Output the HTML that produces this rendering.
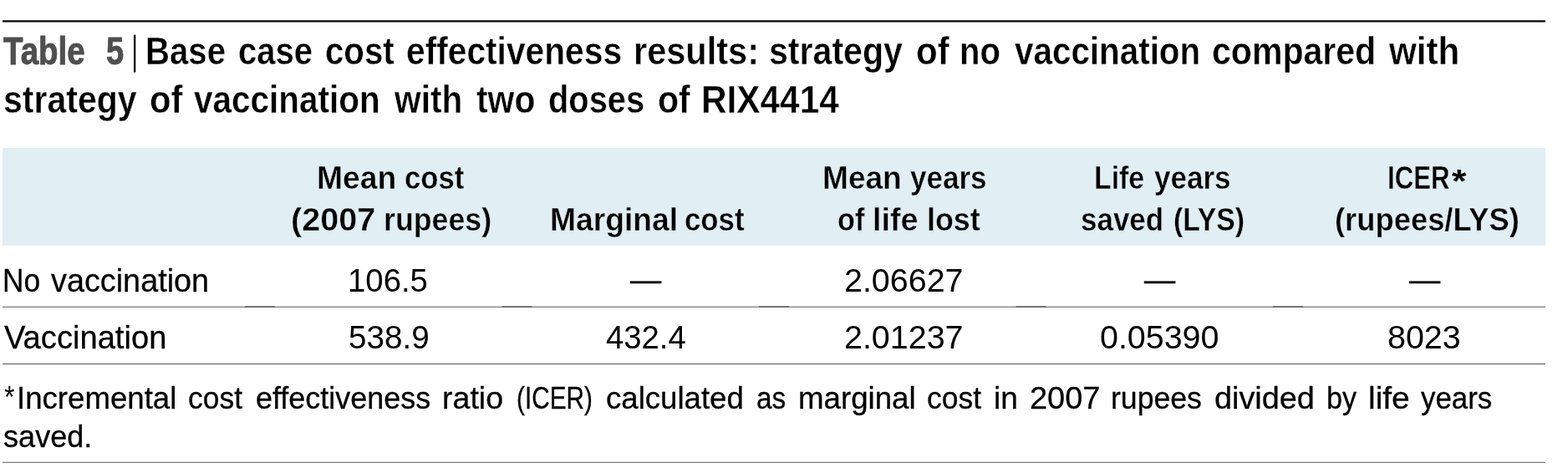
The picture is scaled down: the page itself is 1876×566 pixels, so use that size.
<!DOCTYPE html>
<html lang="en">
<head>
<meta charset="utf-8">
<title>Table 5</title>
<style>
html,body{margin:0;padding:0;background:#fff;}
body{width:1876px;height:566px;position:relative;overflow:hidden;font-family:"Liberation Sans", sans-serif;}
svg.bg{position:absolute;left:0;top:0;}
div span{position:absolute;white-space:pre;line-height:1;transform-origin:0 0;display:block;}
.tg span{font-size:46px;font-weight:700;color:#4f4f4f;-webkit-text-stroke:0.9px #4f4f4f;}
.tt span{font-size:46px;font-weight:700;color:#000000;-webkit-text-stroke:0.4px #ffffff;}
.hd span{font-size:39px;font-weight:700;color:#000000;-webkit-text-stroke:0.4px #e1eef4;}
.bd span{font-size:39px;font-weight:400;color:#000000;-webkit-text-stroke:0.3px #000000;}
.nm span{font-size:39px;font-weight:400;color:#000000;}
.ds span{font-size:39px;font-weight:400;color:#000000;-webkit-text-stroke:0.4px #000000;}
.fn span{font-size:37px;font-weight:400;color:#000000;-webkit-text-stroke:0.3px #000000;}
</style>
</head>
<body>
<svg class="bg" width="1876" height="566" viewBox="0 0 1876 566">
<rect x="3" y="177" width="1846" height="116.7" fill="#e1eef4"/>
<rect x="3" y="24.3" width="1846" height="2.2" fill="#000"/>
<rect x="160" y="41.6" width="2.3" height="44.9" fill="#000"/>
<rect x="3" y="366.85" width="1846" height="0.65" fill="#000"/>
<g fill="#4a4a4a"><rect x="293" y="366.4" width="36" height="1.1"/><rect x="600.5" y="366.4" width="36" height="1.1"/><rect x="908" y="366.4" width="36" height="1.1"/><rect x="1215.5" y="366.4" width="36" height="1.1"/><rect x="1523" y="366.4" width="36" height="1.1"/></g>
<rect x="3" y="435" width="1846" height="1" fill="#555"/>
<rect x="3" y="552.85" width="1846" height="0.65" fill="#000"/>
</svg>
<div class="tg"><span style="left:3.88px;top:38.00px;transform:scaleX(0.8373)">Table</span> <span style="left:127.14px;top:38.00px;transform:scaleX(0.8273)">5</span></div>
<div class="tt"><span style="left:174.21px;top:38.00px;transform:scaleX(0.8728)">Base</span> <span style="left:284.95px;top:38.00px;transform:scaleX(0.8710)">case</span> <span style="left:388.55px;top:38.00px;transform:scaleX(0.8733)">cost</span> <span style="left:485.54px;top:38.00px;transform:scaleX(0.8852)">effectiveness</span> <span style="left:758.11px;top:38.00px;transform:scaleX(0.9025)">results:</span> <span style="left:919.93px;top:38.00px;transform:scaleX(0.8933)">strategy</span> <span style="left:1095.90px;top:38.00px;transform:scaleX(0.9134)">of</span> <span style="left:1148.21px;top:38.00px;transform:scaleX(0.8704)">no</span> <span style="left:1213.82px;top:38.00px;transform:scaleX(0.8779)">vaccination</span> <span style="left:1449.93px;top:38.00px;transform:scaleX(0.8921)">compared</span> <span style="left:1661.73px;top:38.00px;transform:scaleX(0.9173)">with</span></div>
<div class="tt"><span style="left:3.93px;top:95.50px;transform:scaleX(0.8919)">strategy</span> <span style="left:178.91px;top:95.50px;transform:scaleX(0.9075)">of</span> <span style="left:231.82px;top:95.50px;transform:scaleX(0.8799)">vaccination</span> <span style="left:471.71px;top:95.50px;transform:scaleX(0.8842)">with</span> <span style="left:569.82px;top:95.50px;transform:scaleX(0.8880)">two</span> <span style="left:655.96px;top:95.50px;transform:scaleX(0.8656)">doses</span> <span style="left:787.43px;top:95.50px;transform:scaleX(0.8900)">of</span> <span style="left:839.06px;top:95.50px;transform:scaleX(0.9203)">RIX4414</span></div>
<div class="hd"><span style="left:379.15px;top:193.00px;transform:scaleX(0.9558)">Mean</span> <span style="left:483.93px;top:193.00px;transform:scaleX(0.8883)">cost</span></div>
<div class="hd"><span style="left:984.16px;top:193.00px;transform:scaleX(0.9506)">Mean</span> <span style="left:1089.32px;top:193.00px;transform:scaleX(0.8974)">years</span></div>
<div class="hd"><span style="left:1309.34px;top:193.00px;transform:scaleX(0.8680)">Life</span> <span style="left:1380.57px;top:193.00px;transform:scaleX(0.8974)">years</span></div>
<div class="hd"><span style="left:1660.24px;top:193.00px;transform:scaleX(0.8001)">ICER</span><span style="font-size:39.47px;-webkit-text-stroke:0;left:1736.50px;top:197.43px;transform:scaleX(1.1368)">*</span></div>
<div class="hd"><span style="left:348.28px;top:242.50px;transform:scaleX(1.0139)">(2007</span> <span style="left:458.98px;top:242.50px;transform:scaleX(0.9164)">rupees)</span></div>
<div class="hd"><span style="left:658.40px;top:242.50px;transform:scaleX(0.9544)">Marginal</span> <span style="left:819.43px;top:242.50px;transform:scaleX(0.8915)">cost</span></div>
<div class="hd"><span style="left:1001.95px;top:242.50px;transform:scaleX(0.8786)">of</span> <span style="left:1043.87px;top:242.50px;transform:scaleX(0.9670)">life</span> <span style="left:1108.98px;top:242.50px;transform:scaleX(0.9186)">lost</span></div>
<div class="hd"><span style="left:1292.67px;top:242.50px;transform:scaleX(0.8965)">saved</span> <span style="left:1403.96px;top:242.50px;transform:scaleX(0.8659)">(LYS)</span></div>
<div class="hd"><span style="left:1597.13px;top:242.50px;transform:scaleX(0.9325)">(rupees/LYS)</span></div>
<div class="bd"><span style="left:2.92px;top:316.00px;transform:scaleX(0.9039)">No</span> <span style="left:61.15px;top:316.00px;transform:scaleX(0.9692)">vaccination</span></div>
<div class="nm"><span style="left:416.03px;top:316.00px;transform:scaleX(0.9826)">106.5</span></div>
<div class="ds"><span style="left:753.94px;top:315.40px;transform:scaleX(0.9518)">—</span></div>
<div class="nm"><span style="left:1009.74px;top:316.00px;transform:scaleX(1.0106)">2.06627</span></div>
<div class="ds"><span style="left:1368.94px;top:315.40px;transform:scaleX(0.9518)">—</span></div>
<div class="ds"><span style="left:1685.94px;top:315.40px;transform:scaleX(0.9518)">—</span></div>
<div class="bd"><span style="left:4.65px;top:383.75px;transform:scaleX(0.9780)">Vaccination</span></div>
<div class="nm"><span style="left:417.01px;top:383.75px;transform:scaleX(0.9905)">538.9</span></div>
<div class="nm"><span style="left:724.50px;top:383.75px;transform:scaleX(0.9803)">432.4</span></div>
<div class="nm"><span style="left:1009.74px;top:383.75px;transform:scaleX(1.0106)">2.01237</span></div>
<div class="nm"><span style="left:1316.49px;top:383.75px;transform:scaleX(1.0105)">0.05390</span></div>
<div class="nm"><span style="left:1660.49px;top:383.75px;transform:scaleX(1.0111)">8023</span></div>
<div class="fn"><span style="font-size:36.67px;-webkit-text-stroke:0;left:5.08px;top:457.83px;transform:scaleX(0.8771)">*</span><span style="left:20.18px;top:458.00px;transform:scaleX(0.9900)">Incremental</span> <span style="left:225.19px;top:458.00px;transform:scaleX(0.9576)">cost</span> <span style="left:306.17px;top:458.00px;transform:scaleX(0.9716)">effectiveness</span> <span style="left:529.37px;top:458.00px;transform:scaleX(1.0151)">ratio</span> <span style="left:618.01px;top:458.00px;transform:scaleX(0.8044)">(ICER)</span> <span style="left:725.41px;top:458.00px;transform:scaleX(0.9889)">calculated</span> <span style="left:904.98px;top:458.00px;transform:scaleX(0.9042)">as</span> <span style="left:955.17px;top:458.00px;transform:scaleX(0.9911)">marginal</span> <span style="left:1109.19px;top:458.00px;transform:scaleX(0.9576)">cost</span> <span style="left:1188.90px;top:458.00px;transform:scaleX(0.9992)">in</span> <span style="left:1232.13px;top:458.00px;transform:scaleX(1.0246)">2007</span> <span style="left:1329.47px;top:458.00px;transform:scaleX(0.9623)">rupees</span> <span style="left:1452.88px;top:458.00px;transform:scaleX(1.0220)">divided</span> <span style="left:1587.04px;top:458.00px;transform:scaleX(0.9240)">by</span> <span style="left:1636.81px;top:458.00px;transform:scaleX(1.0507)">life</span> <span style="left:1699.64px;top:458.00px;transform:scaleX(0.9416)">years</span></div>
<div class="fn"><span style="left:4.17px;top:503.50px;transform:scaleX(0.9759)">saved.</span></div>
</body>
</html>
